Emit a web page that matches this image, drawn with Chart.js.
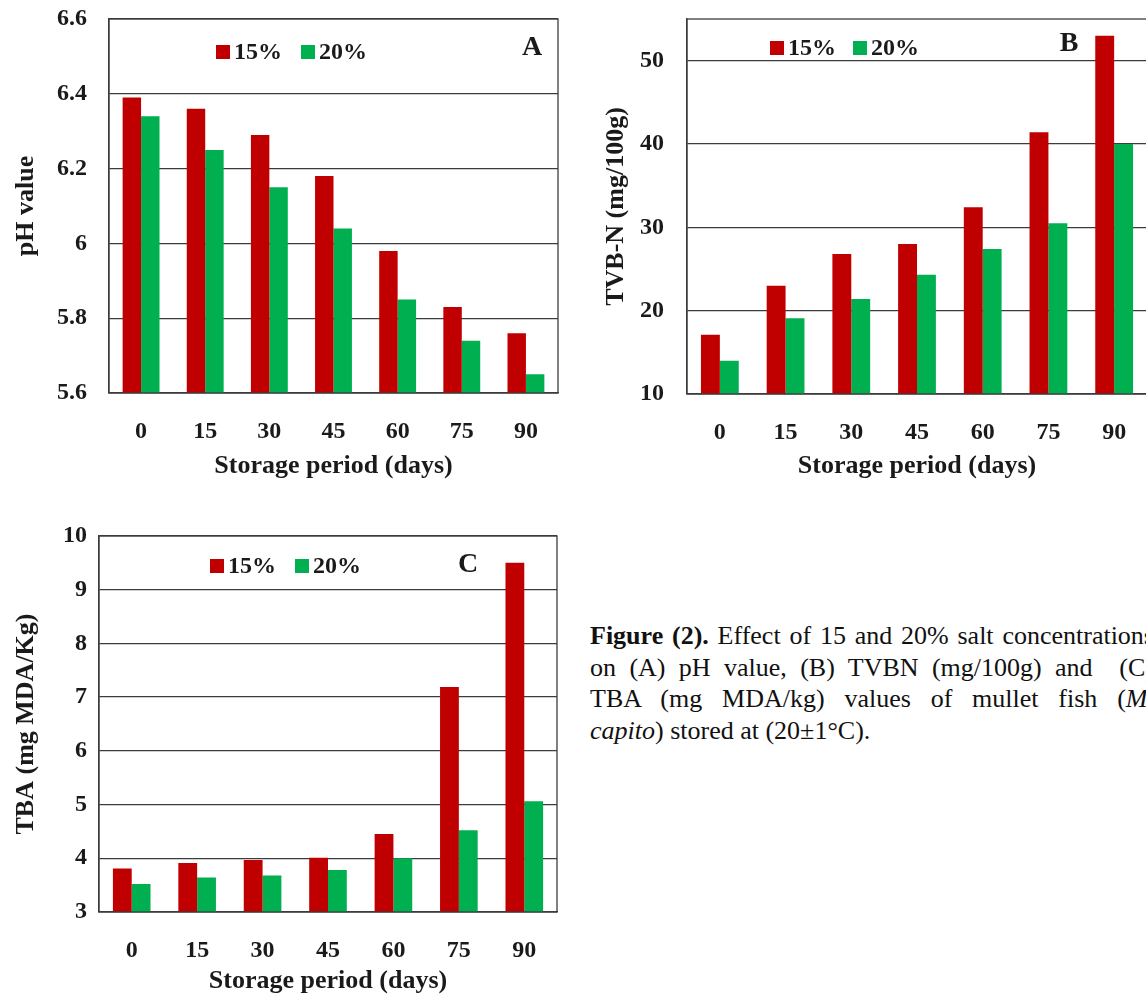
<!DOCTYPE html>
<html>
<head>
<meta charset="utf-8">
<script src="https://cdn.jsdelivr.net/npm/chart.js@4.4.0/dist/chart.umd.min.js"></script>
<style>
  html, body { margin: 0; padding: 0; background: #fff; overflow: hidden; }
  body { width: 1146px; height: 995px; position: relative; }
  canvas { position: absolute; }
  #caption {
    position: absolute; left: 590px; top: 620px; width: 564px;
    font-family: "Liberation Serif", serif; font-size: 26px; line-height: 31.5px; color: #111;
  }
  #caption div { text-align: justify; text-align-last: justify; white-space: nowrap; }
  #caption div.last { text-align-last: left; }
</style>
</head>
<body>
<canvas id="chartA" width="570" height="482" style="left:0;top:0"></canvas>
<canvas id="chartB" width="580" height="482" style="left:580px;top:0"></canvas>
<canvas id="chartC" width="570" height="480" style="left:0;top:517px"></canvas>
<div id="caption">
  <div><b>Figure (2).</b> Effect of 15 and 20% salt concentrations</div>
  <div>on (A) pH value, (B) TVBN (mg/100g) and &nbsp;(C)</div>
  <div>TBA (mg MDA/kg) values of mullet fish (<i>M.</i></div>
  <div class="last"><i>capito</i>) stored at (20±1°C).</div>
</div>
<script>
// storage days and salt levels
const days = ['0', '15', '30', '45', '60', '75', '90'];
const seriesLabels = ['15%', '20%'];

// A - pH
const ph15 = [6.39, 6.36, 6.29, 6.18, 5.98, 5.83, 5.76];
const ph20 = [6.34, 6.25, 6.15, 6.04, 5.85, 5.74, 5.65];
const phTicks = [5.6, 5.8, 6, 6.2, 6.4, 6.6];

// B - TVB-N
const tvbn15 = [17.1, 23.0, 26.8, 28.0, 32.4, 41.4, 53.0];
const tvbn20 = [14.0, 19.1, 21.4, 24.3, 27.4, 30.5, 40.0];
const tvbnTicks = [10, 20, 30, 40, 50];

// C - TBA
const tba15 = [3.81, 3.91, 3.97, 4.01, 4.45, 7.19, 9.50];
const tba20 = [3.52, 3.64, 3.68, 3.78, 4.00, 4.52, 5.06];
const tbaTicks = [3, 4, 5, 6, 7, 8, 9, 10];

const red = '#C00000';
const green = '#00B050';
const lineColor = '#3c3c3c';
const serif = '"Liberation Serif", serif';

// frame, legend inside the plot and the panel letter
const panelDecor = {
  id: 'panelDecor',
  afterDraw(chart, args, opts) {
    const ctx = chart.ctx;
    const a = chart.chartArea;
    ctx.save();
    ctx.strokeStyle = lineColor;
    ctx.lineWidth = 1.3;
    ctx.strokeRect(a.left, a.top, a.right - a.left, a.bottom - a.top);

    ctx.font = 'bold 24px ' + serif;
    ctx.textBaseline = 'middle';
    let x = a.left + opts.legendX;
    const y = a.top + opts.legendY;
    chart.data.datasets.forEach(ds => {
      ctx.fillStyle = ds.backgroundColor;
      ctx.fillRect(x, y - 7, 14, 14);
      ctx.fillStyle = '#1a1a1a';
      ctx.fillText(ds.label, x + 18, y + 1);
      x += opts.legendGap;
    });

    ctx.font = 'bold 28px ' + serif;
    ctx.textAlign = 'center';
    ctx.fillText(opts.letter, a.left + opts.letterX, a.top + opts.letterY);
    ctx.restore();
  }
};

function makeChart(id, d15, d20, tickVals, yMin, yMax, yTitle, o) {
  const ctx = document.getElementById(id).getContext('2d');
  return new Chart(ctx, {
    type: 'bar',
    data: {
      labels: days,
      datasets: [
        { label: seriesLabels[0], data: d15, backgroundColor: red },
        { label: seriesLabels[1], data: d20, backgroundColor: green }
      ]
    },
    options: {
      responsive: false,
      animation: false,
      categoryPercentage: 0.575,
      barPercentage: 1.0,
      layout: { padding: o.padding },
      plugins: {
        legend: { display: false },
        tooltip: { enabled: false },
        panelDecor: o.decor
      },
      scales: {
        x: {
          grid: { display: false, drawTicks: false },
          border: { color: lineColor, width: 1.3 },
          ticks: { color: '#1a1a1a', padding: o.xPad, font: { family: serif, size: 24, weight: 'bold' } },
          title: { display: true, text: 'Storage period (days)', color: '#1a1a1a', padding: 0,
                   font: { family: serif, size: 26, weight: 'bold' } },
          afterFit(s) { s.height = o.xHeight; s.paddingLeft = 0; s.paddingRight = 0; }
        },
        y: {
          min: yMin,
          max: yMax,
          afterBuildTicks(s) { s.ticks = tickVals.map(v => ({ value: v })); },
          grid: { color: lineColor, lineWidth: 1.3, drawTicks: false },
          border: { color: lineColor, width: 1.3 },
          ticks: {
            color: '#1a1a1a', padding: o.yPad,
            font: { family: serif, size: 24, weight: 'bold' },
            callback: v => String(Number(v.toFixed(2)))
          },
          title: { display: true, text: yTitle, color: '#1a1a1a', padding: 0,
                   font: { family: serif, size: 26, weight: 'bold' } },
          afterFit(s) { s.width = o.yWidth; s.paddingTop = 0; s.paddingBottom = 0; }
        }
      }
    },
    plugins: [panelDecor]
  });
}

makeChart('chartA', ph15, ph20, phTicks, 5.6, 6.6, 'pH value', {
  padding: { left: 11, top: 19, right: 12, bottom: 0 },
  yWidth: 98, yPad: 22, xHeight: 89, xPad: 24,
  decor: { legendX: 107, legendY: 33, legendGap: 85, letter: 'A', letterX: 423, letterY: 29 }
});

makeChart('chartB', tvbn15, tvbn20, tvbnTicks, 10, 55, 'TVB-N (mg/100g)', {
  padding: { left: 21, top: 19, right: 13, bottom: 0 },
  yWidth: 86, yPad: 23, xHeight: 88, xPad: 24,
  decor: { legendX: 83, legendY: 29, legendGap: 83, letter: 'B', letterX: 382, letterY: 25 }
});

makeChart('chartC', tba15, tba20, tbaTicks, 3, 10, 'TBA (mg MDA/Kg)', {
  padding: { left: 11, top: 19, right: 13, bottom: 0 },
  yWidth: 88, yPad: 12, xHeight: 85, xPad: 24,
  decor: { legendX: 111, legendY: 30, legendGap: 85, letter: 'C', letterX: 369, letterY: 29 }
});
</script>
</body>
</html>
